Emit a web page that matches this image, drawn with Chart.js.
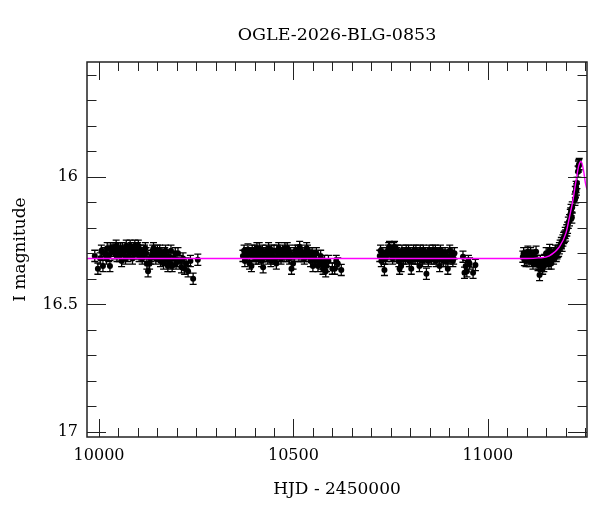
<!DOCTYPE html>
<html>
<head>
<meta charset="utf-8">
<script src="https://cdn.jsdelivr.net/npm/chart.js@4.4.1/dist/chart.umd.min.js"></script>
<style>
  html, body { margin: 0; padding: 0; background: #fff; }
</style>
</head>
<body>
<canvas id="lightCurve" width="600" height="512"></canvas>
<script>
// OGLE I-band photometry (HJD - 2450000, I mag)
const season1Hjd = [9989, 9997, 10003, 10010, 10016, 10021, 10025, 10028, 10032, 10036, 10040, 10044, 10048, 10052, 10055, 10058,
    10062, 10066, 10070, 10074, 10078, 10082, 10086, 10090, 10092, 10095, 10099, 10103, 10107, 10111, 10115, 10119, 10123, 10126,
    10130, 10134, 10138, 10142, 10146, 10150, 10154, 10158, 10162, 10166, 10169, 10173, 10177, 10181, 10185, 10188, 10193, 10198,
    10203, 10208, 10212, 10216, 10220, 10224, 10229, 10235, 10242, 10254,
    10006, 10013, 10019, 10030, 10038, 10046, 10050, 10060, 10068, 10076, 10080, 10088, 10097, 10101, 10105, 10113, 10117, 10121,
    10132, 10140, 10148, 10156, 10160, 10164, 10171, 10179, 10183, 10196, 10200];
const season1Mag = [16.31, 16.36, 16.32, 16.35, 16.30, 16.28, 16.31, 16.35, 16.29, 16.28, 16.30, 16.27, 16.29, 16.31, 16.28, 16.33,
    16.30, 16.29, 16.27, 16.31, 16.30, 16.28, 16.32, 16.29, 16.27, 16.30, 16.28, 16.31, 16.29, 16.32, 16.30, 16.28, 16.34, 16.37,
    16.34, 16.31, 16.29, 16.30, 16.32, 16.29, 16.31, 16.33, 16.30, 16.34, 16.30, 16.32, 16.35, 16.33, 16.29, 16.35, 16.32, 16.34,
    16.30, 16.33, 16.355, 16.32, 16.36, 16.34, 16.37, 16.33, 16.40, 16.325,
    16.29, 16.30, 16.32, 16.28, 16.29, 16.31, 16.28, 16.28, 16.32, 16.29, 16.27, 16.30, 16.29, 16.27, 16.30, 16.31, 16.29, 16.30,
    16.32, 16.28, 16.30, 16.29, 16.31, 16.32, 16.29, 16.31, 16.34, 16.30, 16.33];

const season2Hjd = [10370, 10375, 10379, 10383, 10387, 10390, 10392, 10396, 10400, 10404, 10408, 10412, 10415, 10418, 10422, 10426,
    10430, 10434, 10438, 10442, 10446, 10450, 10453, 10456, 10460, 10464, 10468, 10472, 10476, 10480, 10484, 10486, 10490, 10495,
    10499, 10503, 10507, 10511, 10516, 10520, 10524, 10528, 10532, 10536, 10540, 10544, 10548, 10550, 10555, 10559, 10563, 10567,
    10572, 10576, 10580, 10583, 10585, 10590, 10600, 10606, 10610, 10614, 10623,
    10373, 10381, 10394, 10402, 10406, 10410, 10420, 10428, 10436, 10444, 10448, 10458, 10462, 10466, 10474, 10478, 10482, 10488,
    10492, 10505, 10514, 10518, 10526, 10534, 10542, 10552, 10557, 10570, 10578];
const season2Mag = [16.31, 16.33, 16.30, 16.285, 16.34, 16.30, 16.35, 16.31, 16.29, 16.32, 16.30, 16.28, 16.31, 16.33, 16.355, 16.31,
    16.29, 16.32, 16.30, 16.33, 16.31, 16.29, 16.32, 16.34, 16.31, 16.30, 16.32, 16.29, 16.31, 16.30, 16.28, 16.30, 16.32, 16.36,
    16.34, 16.31, 16.30, 16.29, 16.275, 16.31, 16.30, 16.32, 16.30, 16.29, 16.31, 16.33, 16.30, 16.35, 16.32, 16.30, 16.35, 16.33,
    16.34, 16.36, 16.33, 16.37, 16.35, 16.33, 16.36, 16.36, 16.33, 16.34, 16.365,
    16.29, 16.31, 16.29, 16.31, 16.28, 16.32, 16.29, 16.30, 16.28, 16.29, 16.32, 16.29, 16.28, 16.31, 16.30, 16.28, 16.31, 16.29,
    16.30, 16.29, 16.31, 16.29, 16.31, 16.28, 16.30, 16.31, 16.33, 16.31, 16.35];

const season3Hjd = [10722, 10726, 10730, 10734, 10737, 10739, 10743, 10747, 10751, 10755, 10758, 10760, 10764, 10768, 10771, 10773,
    10777, 10781, 10785, 10788, 10790, 10794, 10798, 10801, 10803, 10807, 10811, 10815, 10819, 10822, 10824, 10828, 10832, 10836,
    10840, 10842, 10843, 10847, 10851, 10855, 10859, 10863, 10867, 10871, 10876, 10880, 10884, 10888, 10892, 10897, 10902, 10906,
    10910, 10914, 10936, 10940, 10943, 10946, 10950, 10953, 10962, 10968,
    10724, 10732, 10741, 10745, 10749, 10753, 10762, 10766, 10775, 10779, 10783, 10792, 10796, 10805, 10809, 10813, 10817, 10826,
    10830, 10834, 10838, 10845, 10849, 10853, 10857, 10861, 10865, 10869, 10874, 10878, 10882, 10886, 10890, 10894, 10900, 10908, 10912];
const season3Mag = [16.31, 16.33, 16.30, 16.365, 16.32, 16.31, 16.29, 16.275, 16.30, 16.32, 16.28, 16.275, 16.31, 16.29, 16.33, 16.36,
    16.35, 16.31, 16.30, 16.32, 16.29, 16.31, 16.33, 16.30, 16.36, 16.32, 16.30, 16.29, 16.32, 16.31, 16.35, 16.30, 16.33, 16.31,
    16.30, 16.38, 16.31, 16.33, 16.30, 16.32, 16.29, 16.31, 16.33, 16.30, 16.35, 16.32, 16.30, 16.31, 16.33, 16.36, 16.29, 16.31,
    16.33, 16.30, 16.313, 16.376, 16.35, 16.37, 16.33, 16.34, 16.376, 16.346,
    16.29, 16.32, 16.30, 16.28, 16.29, 16.31, 16.29, 16.30, 16.31, 16.29, 16.32, 16.30, 16.29, 16.31, 16.29, 16.32, 16.30, 16.29,
    16.31, 16.29, 16.32, 16.30, 16.29, 16.31, 16.30, 16.32, 16.29, 16.31, 16.30, 16.29, 16.31, 16.33, 16.30, 16.31, 16.32, 16.30, 16.32];

const season4Hjd = [11090, 11094, 11098, 11103, 11108, 11112, 11116, 11120, 11124, 11127, 11129, 11133, 11137, 11141, 11146, 11150,
    11154, 11159, 11163, 11166, 11169, 11172, 11176, 11180, 11184, 11189, 11193, 11197, 11200, 11203, 11207, 11210, 11213, 11214,
    11217, 11224, 11226, 11227, 11229, 11233, 11234, 11235,
    11092, 11101, 11106, 11110, 11118, 11122, 11131, 11135, 11139, 11144, 11148, 11152, 11157, 11161, 11168, 11174, 11178, 11182,
    11186, 11191, 11195, 11199, 11205, 11212, 11216, 11225, 11228, 11232];
const season4Mag = [16.313, 16.326, 16.33, 16.294, 16.32, 16.31, 16.34, 16.32, 16.294, 16.33, 16.346, 16.385, 16.35, 16.36, 16.326, 16.30,
    16.33, 16.287, 16.34, 16.31, 16.32, 16.30, 16.31, 16.294, 16.28, 16.26, 16.25, 16.235, 16.23, 16.21, 16.18, 16.17, 16.144, 16.13,
    16.12, 16.09, 16.08, 16.04, 16.024, 15.96, 15.955, 15.95,
    16.30, 16.31, 16.33, 16.30, 16.31, 16.33, 16.34, 16.33, 16.34, 16.35, 16.33, 16.32, 16.34, 16.31, 16.30, 16.29, 16.30, 16.29,
    16.27, 16.27, 16.24, 16.22, 16.20, 16.15, 16.16, 16.06, 16.05, 15.98];

const magError = 0.022; // typical photometric error

// microlensing model curve
const modelHjd = [9969, 11100, 11130, 11158, 11184, 11201, 11210, 11219, 11227, 11234, 11240, 11246, 11251, 11255];
const modelMag = [16.32, 16.32, 16.318, 16.31, 16.275, 16.22, 16.157, 16.09, 16.013, 15.955, 15.94, 15.974, 16.025, 16.05];

const xTickValues = [10000, 10500, 11000];
const yTickValues = [16, 16.5, 17];

const seriesFont = 'DejaVu Serif';

// flatten the seasons into one list of points
const obsPoints = [];
[[season1Hjd, season1Mag], [season2Hjd, season2Mag], [season3Hjd, season3Mag], [season4Hjd, season4Mag]].forEach(function(s) {
    s[0].forEach(function(t, i) {
        obsPoints.push({ x: t, y: s[1][i] });
    });
});
const modelPoints = modelHjd.map(function(t, i) { return { x: t, y: modelMag[i] }; });

// error bars with small caps, drawn under the dots
const errorBars = {
    id: 'errorBars',
    beforeDatasetsDraw(chart) {
        const { ctx, chartArea, scales } = chart;
        ctx.save();
        ctx.beginPath();
        ctx.rect(chartArea.left, chartArea.top, chartArea.width, chartArea.height);
        ctx.clip();
        ctx.strokeStyle = '#000';
        ctx.lineWidth = 1.3;
        obsPoints.forEach(function(p) {
            const px = scales.x.getPixelForValue(p.x);
            const y1 = scales.y.getPixelForValue(p.y - magError);
            const y2 = scales.y.getPixelForValue(p.y + magError);
            ctx.beginPath();
            ctx.moveTo(px, y1); ctx.lineTo(px, y2);
            ctx.moveTo(px - 3.5, y1); ctx.lineTo(px + 3.5, y1);
            ctx.moveTo(px - 3.5, y2); ctx.lineTo(px + 3.5, y2);
            ctx.stroke();
        });
        ctx.restore();
    }
};

// box frame with inward ticks on all four sides
const frameTicks = {
    id: 'frameTicks',
    afterDatasetsDraw(chart) {
        const { ctx, chartArea: a, scales } = chart;
        ctx.save();
        ctx.strokeStyle = '#222';
        ctx.lineWidth = 1;
        ctx.beginPath();
        for (let v = 10000; v <= 11250; v += 50) {
            const px = Math.round(scales.x.getPixelForValue(v)) + 0.5;
            const len = v % 500 === 0 ? 18 : 9;
            ctx.moveTo(px, a.bottom); ctx.lineTo(px, a.bottom - len);
            ctx.moveTo(px, a.top); ctx.lineTo(px, a.top + len);
        }
        for (let i = 0; i <= 14; i++) {
            const v = 15.6 + i * 0.1;
            const py = Math.round(scales.y.getPixelForValue(v)) + 0.5;
            const len = i % 5 === 4 ? 19 : 9.5;
            ctx.moveTo(a.left, py); ctx.lineTo(a.left + len, py);
            ctx.moveTo(a.right, py); ctx.lineTo(a.right - len, py);
        }
        ctx.stroke();
        ctx.lineWidth = 1.5;
        ctx.strokeRect(a.left, a.top, a.right - a.left, a.bottom - a.top);
        ctx.restore();
    }
};

const ctx = document.getElementById('lightCurve');
new Chart(ctx, {
    type: 'scatter',
    data: {
        datasets: [{
            type: 'line',
            label: 'model',
            data: modelPoints,
            borderColor: '#ff00ff',
            borderWidth: 1.4,
            pointRadius: 0,
            fill: false,
            cubicInterpolationMode: 'monotone',
            order: 0
        }, {
            label: 'OGLE I',
            data: obsPoints,
            backgroundColor: '#000',
            borderColor: '#000',
            borderWidth: 0,
            pointRadius: 3,
            order: 1
        }]
    },
    options: {
        responsive: false,
        animation: false,
        layout: { padding: { left: 0, right: 13, top: 0, bottom: 0 } },
        plugins: {
            legend: { display: false },
            tooltip: { enabled: false },
            title: {
                display: true,
                text: 'OGLE-2026-BLG-0853',
                fullSize: false,
                color: '#000',
                font: { family: seriesFont, size: 17.5, weight: 'normal', lineHeight: 1.2 },
                padding: { top: 25, bottom: 16 }
            }
        },
        scales: {
            x: {
                type: 'linear',
                min: 9969,
                max: 11255,
                grid: { display: false, drawTicks: false },
                border: { display: false },
                afterBuildTicks: function(scale) {
                    scale.ticks = xTickValues.map(function(v) { return { value: v }; });
                },
                afterFit: function(scale) { scale.height = 75; },
                ticks: {
                    color: '#000',
                    padding: 9,
                    maxRotation: 0,
                    font: { family: seriesFont, size: 16 },
                    callback: function(v) { return String(v); }
                },
                title: {
                    display: true,
                    text: 'HJD - 2450000',
                    color: '#000',
                    font: { family: seriesFont, size: 17 },
                    padding: { top: 0, bottom: 12 }
                }
            },
            y: {
                type: 'linear',
                reverse: true,
                min: 15.55,
                max: 17.02,
                grid: { display: false, drawTicks: false },
                border: { display: false },
                afterBuildTicks: function(scale) {
                    scale.ticks = yTickValues.map(function(v) { return { value: v }; });
                },
                afterFit: function(scale) { scale.width = 87; },
                ticks: {
                    color: '#000',
                    padding: 9,
                    font: { family: seriesFont, size: 16 },
                    callback: function(v) { return String(v); }
                },
                title: {
                    display: true,
                    text: 'I magnitude',
                    color: '#000',
                    font: { family: seriesFont, size: 17 },
                    padding: { top: 10, bottom: 0 }
                }
            }
        }
    },
    plugins: [errorBars, frameTicks]
});
</script>
</body>
</html>
